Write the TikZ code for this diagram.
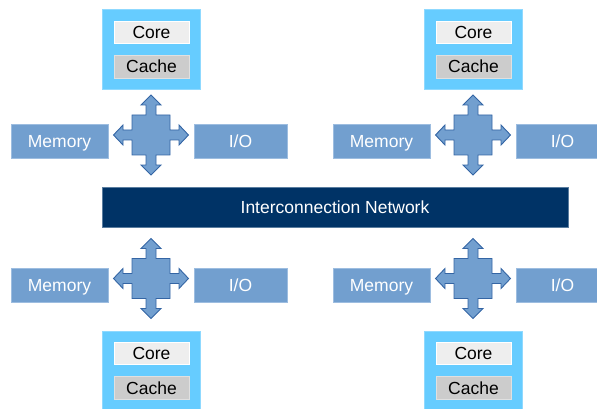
\documentclass[tikz,border=0pt]{standalone}
\usepackage{fontspec}
\setmainfont{Liberation Sans}
\definecolor{tilecyan}{HTML}{66CCFF}
\definecolor{tileedge}{HTML}{8FD9FF}
\definecolor{coregray}{HTML}{EEEEEE}
\definecolor{cachegray}{HTML}{CCCCCC}
\definecolor{unitblue}{HTML}{729FCF}
\definecolor{unitedge}{HTML}{9DBDE0}
\definecolor{hubedge}{HTML}{3465A4}
\definecolor{netblue}{HTML}{003366}
\definecolor{netedge}{HTML}{5A7D9F}
\tikzset{
  hub/.pic={
    \path[fill=unitblue, draw=hubedge, line width=0.9pt, line join=miter]
      (-19,-20) -- (-5,-20) -- (-5,-30) -- (-10,-30) -- (0,-40) -- (10,-30)
      -- (5,-30) -- (5,-20) -- (19,-20) -- (19,-5) -- (28,-5) -- (28,-10)
      -- (37.5,0) -- (28,10) -- (28,5) -- (19,5) -- (19,20) -- (5,20)
      -- (5,30) -- (10,30) -- (0,40) -- (-10,30) -- (-5,30) -- (-5,20)
      -- (-19,20) -- (-19,5) -- (-28,5) -- (-28,10) -- (-37.5,0)
      -- (-28,-10) -- (-28,-5) -- (-19,-5) -- cycle;
  }
}
\begin{document}
\begin{tikzpicture}[x=1pt, y=-1pt,
  every node/.style={inner sep=0pt, outer sep=0pt,
    text height=12.5pt, text depth=0pt,
    font=\fontsize{17.5}{20}\selectfont},
  tile/.style={fill=tilecyan, draw=tileedge, line width=0.8pt,
    minimum width=98pt, minimum height=80pt},
  corebox/.style={fill=coregray, draw=white, line width=0.6pt,
    minimum width=75pt, minimum height=22pt},
  cachebox/.style={fill=cachegray, draw=white!40!cachegray, line width=0.6pt,
    minimum width=75pt, minimum height=23pt},
  unit/.style={fill=unitblue, draw=unitedge, line width=0.6pt, text=white,
    minimum height=34pt},
  net/.style={fill=netblue, draw=netedge, line width=0.8pt, text=white,
    minimum width=466pt, minimum height=40pt}
]
\useasboundingbox (0,0) rectangle (597,409);
\clip (0,0) rectangle (597,409);

% interconnection network bar
\node[net] (net) at (335,207) {Interconnection Network};

\foreach \dx/\n in {0/l, 322/r} {
  % upper tile: core, cache and its local hub
  \node[tile] (tile-\n-up) at (151+\dx,49) {};
  \node[corebox] (core-\n-up) at (151.5+\dx,32) {Core};
  \node[cachebox] (cache-\n-up) at (151.5+\dx,66.5) {Cache};
  \node[unit, minimum width=97pt] (mem-\n-up) at (59.5+\dx,141) {Memory};
  \node[unit, minimum width=93pt] (io-\n-up) at (240.5+\dx,141) {I/O};
  \pic at (151+\dx,135) {hub};
  \coordinate (hub-\n-up) at (151+\dx,135);

  % lower tile: hub, core and cache
  \node[unit, minimum width=97pt] (mem-\n-dn) at (59.5+\dx,285) {Memory};
  \node[unit, minimum width=93pt] (io-\n-dn) at (240.5+\dx,285) {I/O};
  \pic at (151+\dx,278.5) {hub};
  \coordinate (hub-\n-dn) at (151+\dx,278.5);
  \node[tile] (tile-\n-dn) at (151.5+\dx,371) {};
  \node[corebox] (core-\n-dn) at (151.5+\dx,353.5) {Core};
  \node[cachebox] (cache-\n-dn) at (151.5+\dx,388) {Cache};
}
\end{tikzpicture}
\end{document}
